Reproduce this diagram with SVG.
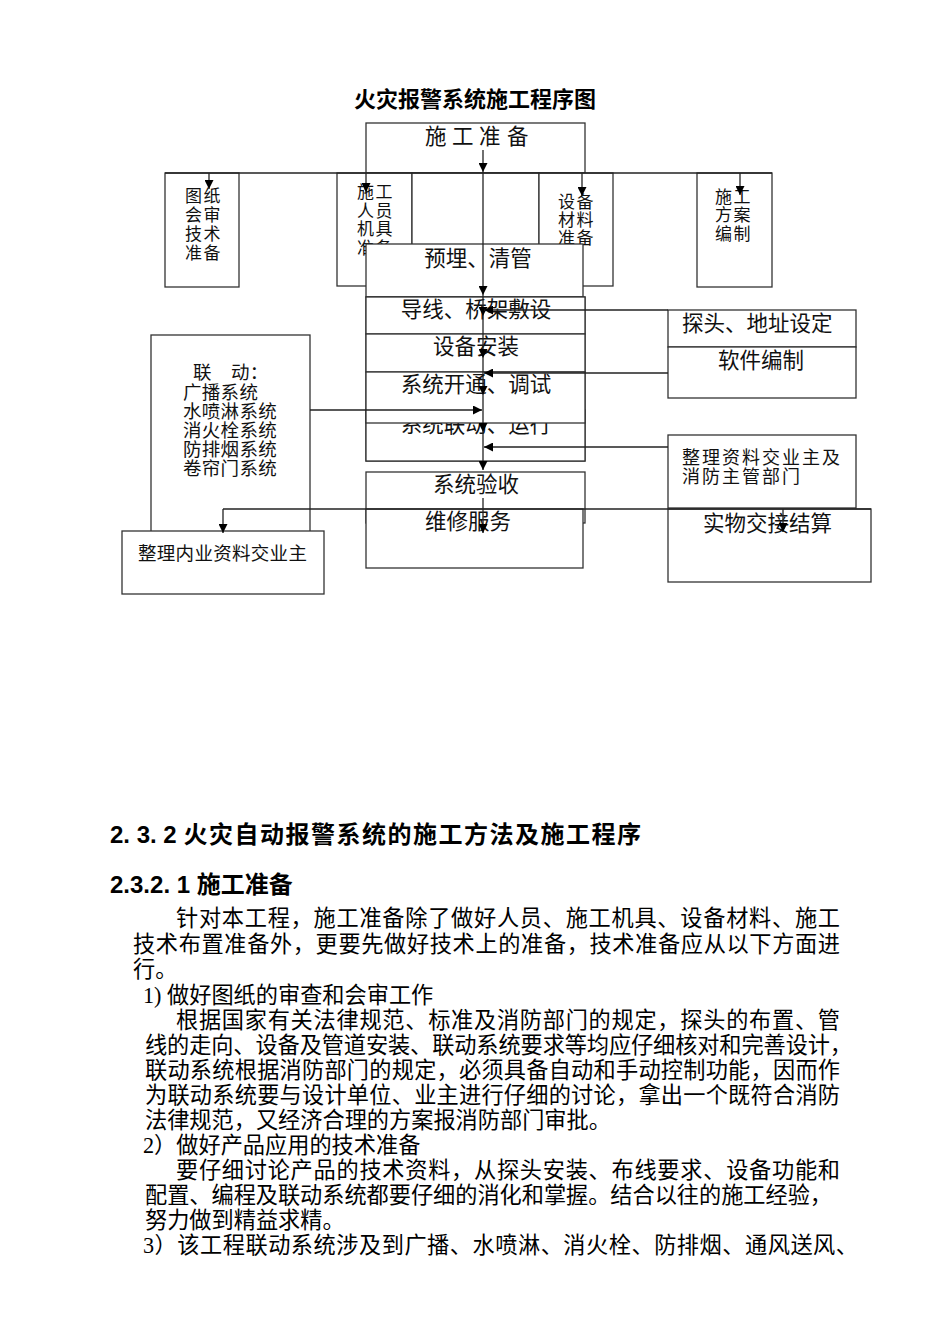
<svg xmlns="http://www.w3.org/2000/svg" width="950" height="1344" viewBox="0 0 950 1344">
<style>
.bx{fill:#fff;stroke:#333;stroke-width:1.3}
.bn{fill:none;stroke:#333;stroke-width:1.3}
.ln{fill:none;stroke:#222;stroke-width:1.3}
.ar{fill:none;stroke:#222;stroke-width:1.3;marker-end:url(#ah)}
.t{font-family:"Noto Sans CJK SC","Noto Sans",sans-serif;fill:#111}
.d{font-size:21.5px}
.s{font-size:17px;letter-spacing:1.5px}
.m{font-size:18.5px;letter-spacing:0.3px}
.h{font-family:"Liberation Sans","Noto Sans CJK SC",sans-serif;font-weight:bold;fill:#000}
.p{font-family:"Liberation Serif","Noto Sans CJK SC",serif;font-size:22.2px;fill:#000}
</style>
<defs>
<marker id="ah" viewBox="0 0 10 10" refX="10" refY="5" markerWidth="11" markerHeight="9" markerUnits="userSpaceOnUse" orient="auto">
<path d="M0,0 L10,5 L0,10 z" fill="#000"/>
</marker>
</defs>
<rect width="950" height="1344" fill="#fff"/>

<text class="h" x="475" y="107" font-size="22" text-anchor="middle">火灾报警系统施工程序图</text>

<g id="n-prep">
<rect class="bn" x="366" y="123" width="219" height="50"/>
<text class="t d" y="144"><tspan x="425">施</tspan><tspan x="452">工</tspan><tspan x="479">准</tspan><tspan x="507">备</tspan></text>
</g>
<g id="n-drawing">
<rect class="bx" x="165" y="173" width="74" height="114"/>
<text class="t s"><tspan x="185" y="202">图纸</tspan><tspan x="185" y="221">会审</tspan><tspan x="185" y="240">技术</tspan><tspan x="185" y="259">准备</tspan></text>
</g>
<g id="n-staff">
<rect class="bx" x="337" y="173" width="75" height="113"/>
<text class="t s"><tspan x="357" y="198">施工</tspan><tspan x="357" y="216.5">人员</tspan><tspan x="357" y="235">机具</tspan><tspan x="357" y="253.5">准备</tspan></text>
</g>
<g id="n-mid">
<rect class="bx" x="412" y="173" width="127" height="100"/>
</g>
<g id="n-material">
<rect class="bx" x="539" y="173" width="74" height="113"/>
<text class="t s"><tspan x="558" y="208">设备</tspan><tspan x="558" y="226">材料</tspan><tspan x="558" y="244">准备</tspan></text>
</g>
<g id="n-plan">
<rect class="bx" x="697" y="173" width="75" height="114"/>
<text class="t s"><tspan x="715" y="203">施工</tspan><tspan x="715" y="221">方案</tspan><tspan x="715" y="240">编制</tspan></text>
</g>
<g id="n-embed">
<rect class="bx" x="366" y="244" width="217" height="53"/>
<text class="t d" x="478" y="266" text-anchor="middle">预埋、清管</text>
</g>
<g id="n-frame">
<rect class="bn" x="366" y="297" width="219" height="164"/>
</g>
<g id="n-wire">
<rect class="bx" x="366" y="297" width="219" height="37"/>
<text class="t d" x="476" y="317" text-anchor="middle">导线、桥架敷设</text>
</g>
<g id="n-install">
<rect class="bx" x="366" y="334" width="219" height="38"/>
<text class="t d" x="476" y="354" text-anchor="middle">设备安装</text>
</g>
<g id="n-link">
<rect class="bx" x="366" y="410" width="219" height="51"/>
<text class="t d" x="476" y="432" text-anchor="middle">系统联动、运行</text>
</g>
<g id="n-debug">
<rect class="bx" x="366" y="372" width="219" height="51"/>
<text class="t d" x="476" y="392" text-anchor="middle">系统开通、调试</text>
</g>
<g id="n-accept">
<rect class="bx" x="366" y="472" width="219" height="51"/>
<text class="t d" x="476" y="492" text-anchor="middle">系统验收</text>
</g>
<g id="n-service">
<rect class="bx" x="366" y="509" width="217" height="59"/>
<text class="t d" x="468" y="529" text-anchor="middle">维修服务</text>
</g>
<g id="n-linkage">
<rect class="bx" x="151" y="335" width="159" height="200"/>
<text class="t m"><tspan x="193" y="379">联</tspan><tspan x="231" y="379">动：</tspan><tspan x="183" y="398.5">广播系统</tspan><tspan x="183" y="417.5">水喷淋系统</tspan><tspan x="183" y="437">消火栓系统</tspan><tspan x="183" y="456">防排烟系统</tspan><tspan x="183" y="475">卷帘门系统</tspan></text>
</g>
<g id="n-docs">
<rect class="bx" x="122" y="531" width="202" height="63"/>
<text class="t m" x="138" y="560">整理内业资料交业主</text>
</g>
<g id="n-probe">
<rect class="bx" x="668" y="310" width="188" height="37"/>
<text class="t d" x="682" y="331" font-size="22">探头、地址设定</text>
</g>
<g id="n-soft">
<rect class="bx" x="668" y="347" width="188" height="51"/>
<text class="t d" x="761" y="368" text-anchor="middle">软件编制</text>
</g>
<g id="n-owner">
<rect class="bx" x="668" y="435" width="188" height="73"/>
<text class="t" font-size="18" letter-spacing="2"><tspan x="682" y="464">整理资料交业主及</tspan><tspan x="682" y="483">消防主管部门</tspan></text>
</g>
<g id="n-handover">
<rect class="bx" x="668" y="509" width="203" height="73"/>
<text class="t d" x="703" y="531" font-size="22">实物交接结算</text>
</g>

<g id="connectors">
<line class="ln" x1="165" y1="173" x2="772" y2="173"/>
<line class="ar" x1="209" y1="173" x2="209" y2="189"/>
<line class="ar" x1="366" y1="173" x2="366" y2="192"/>
<line class="ar" x1="582" y1="173" x2="582" y2="196"/>
<line class="ar" x1="740" y1="173" x2="740" y2="195"/>
<line class="ar" x1="483" y1="150" x2="483" y2="172"/>
<line class="ar" x1="483" y1="172" x2="483" y2="295"/>
<line class="ar" x1="483" y1="295" x2="483" y2="316"/>
<line class="ar" x1="483" y1="316" x2="483" y2="358"/>
<line class="ar" x1="483" y1="358" x2="483" y2="395"/>
<line class="ar" x1="483" y1="395" x2="483" y2="432"/>
<line class="ar" x1="483" y1="432" x2="483" y2="470"/>
<line class="ar" x1="483" y1="498" x2="483" y2="533"/>
<line class="ar" x1="668" y1="310" x2="484" y2="310"/>
<line class="ar" x1="668" y1="373" x2="484" y2="373"/>
<line class="ar" x1="310" y1="410" x2="482" y2="410"/>
<line class="ar" x1="668" y1="447" x2="484" y2="447"/>
<line class="ln" x1="223" y1="509" x2="871" y2="509"/>
<line class="ar" x1="223" y1="509" x2="223" y2="533"/>
<line class="ar" x1="783" y1="509" x2="783" y2="532"/>
</g>

<g id="body">
<text class="h" x="110" y="843" font-size="24"><tspan>2. 3. 2 </tspan><tspan letter-spacing="1.5">火灾自动报警系统的施工方法及施工程序</tspan></text>
<text class="h" x="110" y="893" font-size="24">2.3.2. 1 施工准备</text>
<text class="p" x="176" y="926" textLength="664" lengthAdjust="spacing">针对本工程，施工准备除了做好人员、施工机具、设备材料、施工</text>
<text class="p" x="133" y="952" textLength="707" lengthAdjust="spacing">技术布置准备外，更要先做好技术上的准备，技术准备应从以下方面进</text>
<text class="p" x="133" y="977">行。</text>
<text class="p" x="143" y="1003">1) 做好图纸的审查和会审工作</text>
<text class="p" x="176" y="1028" textLength="664" lengthAdjust="spacing">根据国家有关法律规范、标准及消防部门的规定，探头的布置、管</text>
<text class="p" x="145" y="1053" textLength="707" lengthAdjust="spacing">线的走向、设备及管道安装、联动系统要求等均应仔细核对和完善设计，</text>
<text class="p" x="145" y="1078" textLength="695" lengthAdjust="spacing">联动系统根据消防部门的规定，必须具备自动和手动控制功能，因而作</text>
<text class="p" x="145" y="1103" textLength="695" lengthAdjust="spacing">为联动系统要与设计单位、业主进行仔细的讨论，拿出一个既符合消防</text>
<text class="p" x="145" y="1128">法律规范，又经济合理的方案报消防部门审批。</text>
<text class="p" x="143" y="1153">2）做好产品应用的技术准备</text>
<text class="p" x="176" y="1178" textLength="664" lengthAdjust="spacing">要仔细讨论产品的技术资料，从探头安装、布线要求、设备功能和</text>
<text class="p" x="145" y="1203" textLength="687" lengthAdjust="spacing">配置、编程及联动系统都要仔细的消化和掌握。结合以往的施工经验，</text>
<text class="p" x="145" y="1228">努力做到精益求精。</text>
<text class="p" x="143" y="1253" textLength="715" lengthAdjust="spacing">3）该工程联动系统涉及到广播、水喷淋、消火栓、防排烟、通风送风、</text>
</g>
</svg>
